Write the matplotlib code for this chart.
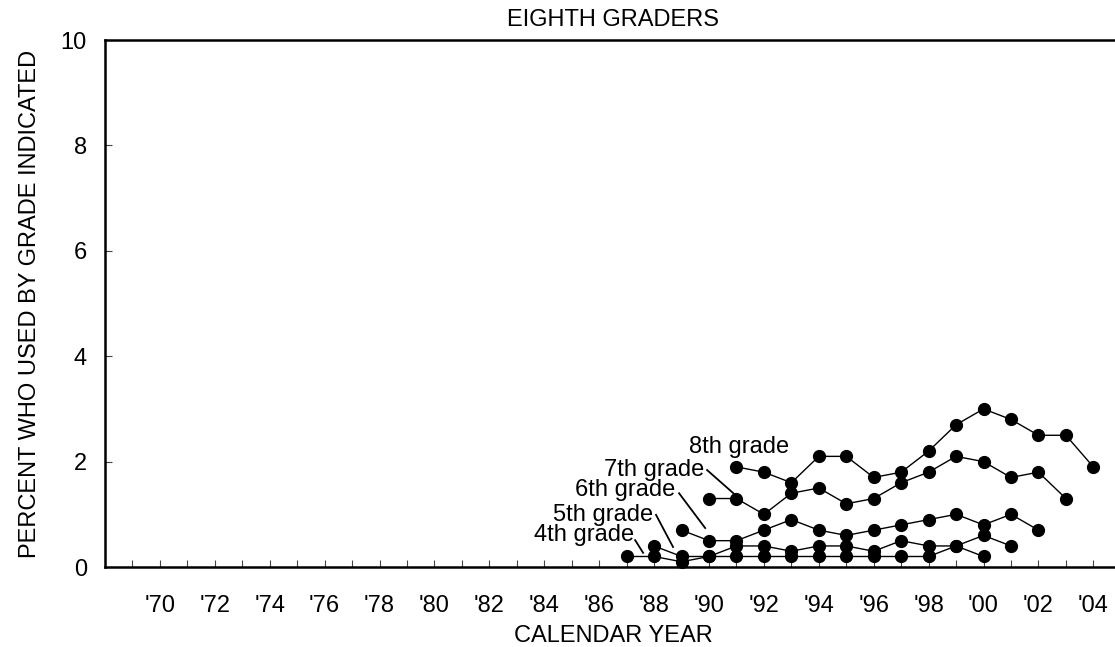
import matplotlib
matplotlib.use("Agg")
import matplotlib.pyplot as plt

plt.rcParams['font.family'] = ['Liberation Sans', 'DejaVu Sans']
plt.rcParams['font.size'] = 17

# values (percent who used by grade indicated)
years_4th = [1987, 1988, 1989, 1990, 1991, 1992, 1993, 1994, 1995, 1996, 1997, 1998, 1999, 2000]
vals_4th = [0.2, 0.2, 0.1, 0.2, 0.2, 0.2, 0.2, 0.2, 0.2, 0.2, 0.2, 0.2, 0.4, 0.2]

years_5th = [1988, 1989, 1990, 1991, 1992, 1993, 1994, 1995, 1996, 1997, 1998, 1999, 2000, 2001]
vals_5th = [0.4, 0.2, 0.2, 0.4, 0.4, 0.3, 0.4, 0.4, 0.3, 0.5, 0.4, 0.4, 0.6, 0.4]

years_6th = [1989, 1990, 1991, 1992, 1993, 1994, 1995, 1996, 1997, 1998, 1999, 2000, 2001, 2002]
vals_6th = [0.7, 0.5, 0.5, 0.7, 0.9, 0.7, 0.6, 0.7, 0.8, 0.9, 1.0, 0.8, 1.0, 0.7]

years_7th = [1990, 1991, 1992, 1993, 1994, 1995, 1996, 1997, 1998, 1999, 2000, 2001, 2002, 2003]
vals_7th = [1.3, 1.3, 1.0, 1.4, 1.5, 1.2, 1.3, 1.6, 1.8, 2.1, 2.0, 1.7, 1.8, 1.3]

years_8th = [1991, 1992, 1993, 1994, 1995, 1996, 1997, 1998, 1999, 2000, 2001, 2002, 2003, 2004]
vals_8th = [1.9, 1.8, 1.6, 2.1, 2.1, 1.7, 1.8, 2.2, 2.7, 3.0, 2.8, 2.5, 2.5, 1.9]

tick_years = list(range(1970, 2005, 2))
tick_labels = ["'%02d" % (y % 100) for y in tick_years]

fig = plt.figure(figsize=(11.15, 6.47), dpi=100)
ax = fig.add_axes([0.0942, 0.1236, 0.911, 0.8145])

for xs, ys in [(years_4th, vals_4th), (years_5th, vals_5th), (years_6th, vals_6th),
               (years_7th, vals_7th), (years_8th, vals_8th)]:
    ax.plot(xs, ys, color='black', lw=1.0, marker='o', ms=8.5, clip_on=False, zorder=3)

# grade labels with leader lines
ax.text(1991.1, 2.28, '8th grade', ha='center', va='center')
ax.text(1989.82, 1.84, '7th grade', ha='right', va='center')
ax.plot([1989.93, 1990.91], [1.84, 1.39], color='black', lw=1.3)
ax.text(1988.77, 1.46, '6th grade', ha='right', va='center')
ax.plot([1988.91, 1989.86], [1.40, 0.74], color='black', lw=1.3)
ax.text(1987.96, 0.99, '5th grade', ha='right', va='center')
ax.plot([1988.07, 1988.69], [0.99, 0.38], color='black', lw=1.3)
ax.text(1987.27, 0.61, '4th grade', ha='right', va='center')
ax.plot([1987.31, 1987.60], [0.51, 0.27], color='black', lw=1.3)

ax.set_xlim(1968, 2005)
ax.set_ylim(0, 10)
ax.set_xticks(range(1969, 2005), minor=True)
ax.set_xticks(tick_years)
ax.set_xticklabels(tick_labels)
ax.set_yticks([0, 2, 4, 6, 8, 10])
ax.tick_params(axis='x', which='both', direction='in', length=5, width=0.8, color='#444444', pad=20)
ax.tick_params(axis='y', direction='in', length=5, width=0.8, color='#444444', pad=13)

for side in ['left', 'bottom', 'top']:
    ax.spines[side].set_linewidth(1.8)
ax.spines['right'].set_visible(False)

ax.set_title('EIGHTH GRADERS', fontsize=17, pad=10)
ax.set_xlabel('CALENDAR YEAR', labelpad=6)
ax.set_ylabel('PERCENT WHO USED BY GRADE INDICATED', labelpad=14)

fig.savefig('out.png', dpi=100)
